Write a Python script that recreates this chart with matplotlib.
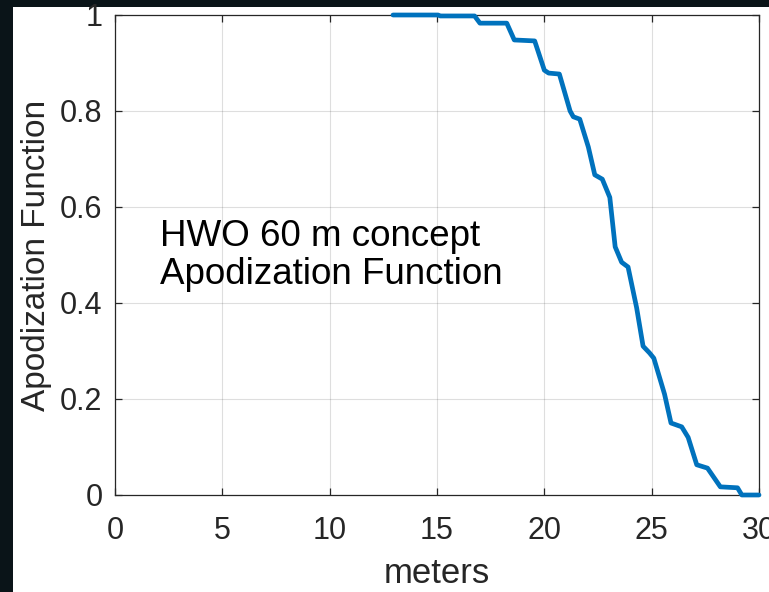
import matplotlib.pyplot as plt
from matplotlib.patches import Rectangle

plt.rcParams['font.family'] = ['Liberation Sans', 'DejaVu Sans']

# apodization profile (meters, value)
meters = [12.95, 15.05, 15.15, 16.75, 17.0, 18.25, 18.6, 19.55, 20.0, 20.2,
          20.7, 21.2, 21.35, 21.65, 22.05, 22.35, 22.7, 23.05, 23.3, 23.6,
          23.9, 24.3, 24.6, 24.9, 25.1, 25.6, 25.9, 26.4, 26.7, 27.1,
          27.6, 28.2, 29.0, 29.2, 30.0]
apod = [1.0, 1.0, 0.998, 0.998, 0.983, 0.983, 0.948, 0.946, 0.885, 0.879,
        0.877, 0.80, 0.788, 0.783, 0.725, 0.667, 0.658, 0.62, 0.517, 0.485,
        0.475, 0.39, 0.31, 0.296, 0.285, 0.21, 0.15, 0.142, 0.12, 0.063,
        0.056, 0.017, 0.015, 0.0, 0.0]

xticks = [0, 5, 10, 15, 20, 25, 30]
yticks = [0, 0.2, 0.4, 0.6, 0.8, 1]
ytick_labels = ['0', '0.2', '0.4', '0.6', '0.8', '1']

W, H = 769, 592
fig = plt.figure(figsize=(W / 100, H / 100), dpi=100)
fig.patch.set_facecolor('#0a1418')
# white matlab figure pasted on the dark slide
bg = Rectangle((13 / W, 0), 1, (H - 7) / H, transform=fig.transFigure,
               facecolor='white', edgecolor='none', zorder=-10)
fig.add_artist(bg)

ax = fig.add_axes([115 / W, 1 - 495 / H, (759 - 115) / W, (495 - 15) / H])
ax.set_zorder(1)
ax.plot(meters, apod, color='#0072BD', lw=3.4, clip_on=False,
        solid_joinstyle='round', solid_capstyle='round', zorder=5)

ax.set_xlim(0, 30)
ax.set_ylim(0, 1)
ax.set_xticks(xticks)
ax.set_yticks(yticks)
ax.set_yticklabels(ytick_labels)
ax.grid(True, color='#262626', alpha=0.15, lw=0.8)
ax.set_axisbelow(True)
for s in ax.spines.values():
    s.set_color('#262626')
    s.set_linewidth(0.9)
ax.tick_params(axis='both', direction='in', length=5, width=0.9, color='#262626',
               labelsize=22, labelcolor='#262626', top=True, right=True)
ax.tick_params(axis='x', pad=15)
ax.tick_params(axis='y', pad=9)

ax.set_xlabel('meters', fontsize=25, color='#262626', labelpad=8)
ax.set_ylabel('Apodization Function', fontsize=24, color='#262626', labelpad=6)

ax.text(2.1, 0.575, 'HWO 60 m concept\nApodization Function', fontsize=26.5,
        color='black', va='top', ha='left', linespacing=1.12)

plt.savefig('out.png', dpi=100, facecolor=fig.get_facecolor())
